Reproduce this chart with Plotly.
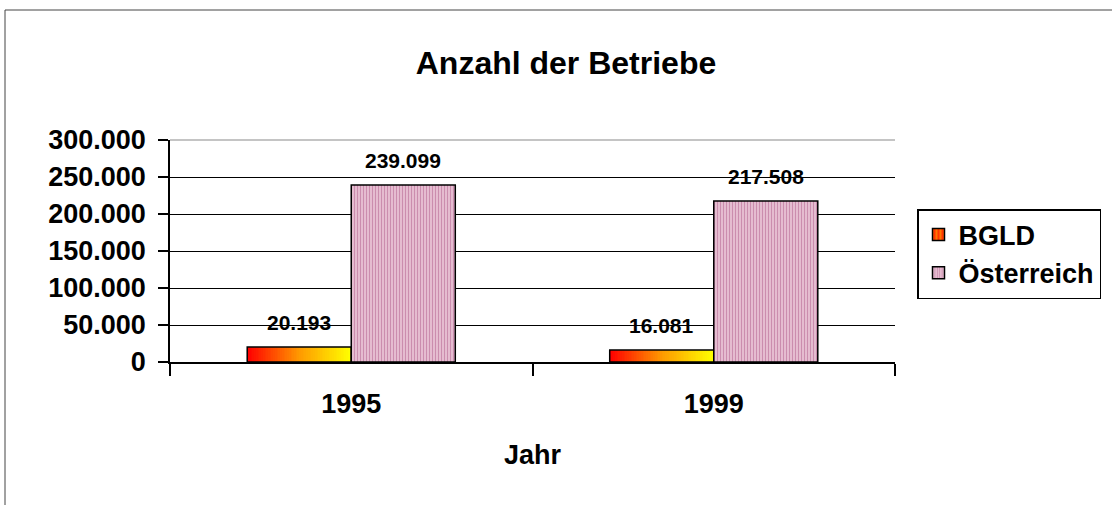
import numpy as np
import plotly.graph_objects as go

# ---- data ----
years = ["1995", "1999"]
bgld = [20193, 16081]
oesterreich = [239099, 217508]
series_names = ["BGLD", "Österreich"]
y_ticks = [0, 50000, 100000, 150000, 200000, 250000, 300000]

# ---- layout geometry ----
W, H = 1112, 505
ML, MR, MT, MB = 170, 217, 140, 143
PW, PH = W - ML - MR, H - MT - MB
BAR_W = 0.287
FONT = "Liberation Sans, Arial, sans-serif"

def de(v):
    return f"{v:,}".replace(",", ".")

xpos = list(range(len(years)))

fig = go.Figure()

# gradient fill for BGLD bars (drawn underneath outline bars)
n_steps = 60
for xi, v in zip(xpos, bgld):
    x0 = xi - BAR_W
    edges = np.linspace(x0, x0 + BAR_W, n_steps + 1)
    fig.add_trace(go.Heatmap(
        x=edges, y=[0, v], z=[np.linspace(0, 1, n_steps)],
        colorscale=[[0, "#ff0000"], [0.5, "#ff9900"], [1, "#ffff00"]],
        showscale=False, hoverinfo="skip", zmin=0, zmax=1,
    ))

# legend placeholder for BGLD
fig.add_trace(go.Bar(
    x=[None], y=[None], name=series_names[0],
    marker=dict(color="#ff8800", line=dict(color="black", width=1.5),
                pattern=dict(shape="|", fgcolor="#ffee00", bgcolor="#ff3300",
                             size=5, solidity=0.35)),
    showlegend=True,
))

# BGLD outline bars
fig.add_trace(go.Bar(
    x=xpos, y=bgld, name=series_names[0], showlegend=False,
    width=BAR_W, offset=-BAR_W,
    marker=dict(color="rgba(0,0,0,0)", line=dict(color="black", width=1.5)),
))

# Österreich bars
fig.add_trace(go.Bar(
    x=xpos, y=oesterreich, name=series_names[1],
    width=BAR_W, offset=0,
    marker=dict(color="#e8c0d4", line=dict(color="black", width=1.5),
                pattern=dict(shape="|", fgcolor="#a8507f", bgcolor="#eecbdc",
                             size=3, solidity=0.5)),
))

# data labels
for xi, v in zip(xpos, bgld):
    fig.add_annotation(x=xi - BAR_W / 2, y=v, text=de(v), showarrow=False,
                       yanchor="middle", yshift=25,
                       font=dict(size=21, family=FONT, color="black", weight="bold"))
for xi, v in zip(xpos, oesterreich):
    fig.add_annotation(x=xi + BAR_W / 2, y=v, text=de(v), showarrow=False,
                       yanchor="middle", yshift=25,
                       font=dict(size=21, family=FONT, color="black", weight="bold"))

# outer frame (top and left edges)
fx0 = (5 - ML) / PW
fy0 = (H - MB - 10) / PH
fig.add_shape(type="line", xref="paper", yref="paper", x0=fx0, x1=2.0, y0=fy0, y1=fy0,
              line=dict(color="#444444", width=1))
fig.add_shape(type="line", xref="paper", yref="paper", x0=fx0, x1=fx0, y0=fy0, y1=-2.0,
              line=dict(color="#444444", width=1))
# plot-area top border (grey)
fig.add_shape(type="line", xref="paper", yref="paper", x0=0, x1=1, y0=1, y1=1,
              line=dict(color="#b0b0b0", width=1.5))

fig.update_layout(
    width=W, height=H,
    margin=dict(l=ML, r=MR, t=MT, b=MB, autoexpand=False),
    paper_bgcolor="white", plot_bgcolor="white",
    separators=",.",
    barmode="overlay",
    font=dict(family=FONT, color="black", weight="bold"),
    title=dict(text="Anzahl der Betriebe", x=566 / W, y=1 - 63 / H,
               xanchor="center", yanchor="middle",
               font=dict(size=32, family=FONT, color="black", weight="bold")),
    legend=dict(x=(917 - ML) / PW, y=(H - MB - 209) / PH, xanchor="left", yanchor="top",
                bordercolor="black", borderwidth=1.5, bgcolor="white",
                font=dict(size=27, family=FONT, color="black", weight="bold"),
                traceorder="normal"),
    showlegend=True,
)

fig.update_xaxes(
    range=[-0.5, len(years) - 0.5],
    tickmode="array", tickvals=xpos, ticktext=years,
    ticks="", showgrid=False, zeroline=False,
    showline=True, linecolor="black", linewidth=1.5,
    tickfont=dict(size=27, family=FONT, color="black", weight="bold"),
    ticklabelstandoff=17,
    minor=dict(tickmode="array", tickvals=[i - 0.5 for i in range(len(years) + 1)],
               ticks="outside", ticklen=12, tickwidth=1.5, tickcolor="black"),
    title=dict(text="Jahr", standoff=27,
               font=dict(size=27, family=FONT, color="black", weight="bold")),
)

fig.update_yaxes(
    range=[0, 300000],
    tickmode="array", tickvals=y_ticks, tickformat=",d",
    ticks="outside", ticklen=10, tickwidth=1.5, tickcolor="black",
    showline=True, linecolor="black", linewidth=1.5,
    showgrid=True, gridcolor="black", gridwidth=1.3,
    zeroline=False,
    tickfont=dict(size=27, family=FONT, color="black", weight="bold"),
    ticklabelstandoff=7,
)

fig.write_html("out.html", config={"displayModeBar": False},
               post_script="document.body.style.margin='0';")
